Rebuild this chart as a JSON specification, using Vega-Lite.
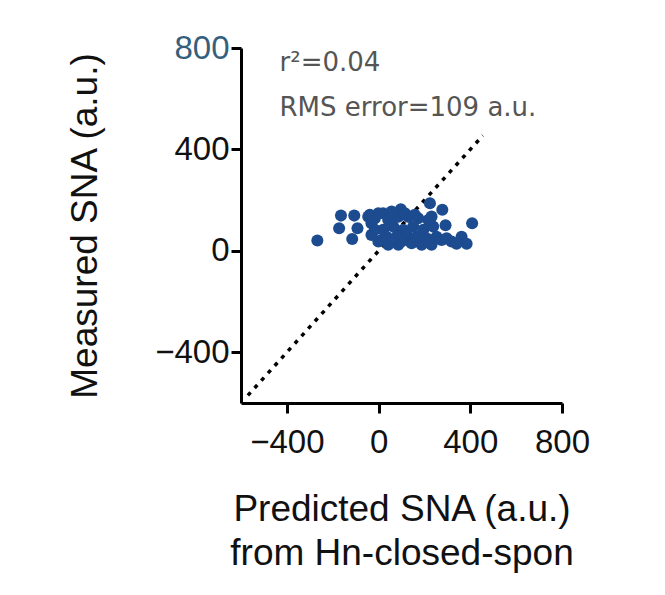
{
  "$schema": "https://vega.github.io/schema/vega-lite/v6.json",
  "width": 321,
  "height": 355,
  "autosize": {"type": "none"},
  "padding": {"left": 241, "top": 48, "right": 103, "bottom": 192},
  "background": "white",
  "config": {"view": {"stroke": null}, "font": "Liberation Sans"},
  "datasets": {
    "points": [
      {"x": -267, "y": 41}, {"x": -164, "y": 139}, {"x": -106, "y": 139}, {"x": -172, "y": 89},
      {"x": -92, "y": 89}, {"x": -115, "y": 47}, {"x": -38, "y": 142}, {"x": 20, "y": 148},
      {"x": -31, "y": 109}, {"x": 97, "y": 164}, {"x": 224, "y": 188}, {"x": 278, "y": 162},
      {"x": 292, "y": 101}, {"x": 408, "y": 109}, {"x": 362, "y": 56}, {"x": 384, "y": 28},
      {"x": 318, "y": 37}, {"x": 275, "y": 43}, {"x": 231, "y": 24}, {"x": 188, "y": 24},
      {"x": 144, "y": 30}, {"x": 86, "y": 24}, {"x": 42, "y": 24}, {"x": -1, "y": 37},
      {"x": -31, "y": 63}, {"x": -16, "y": 129}, {"x": 42, "y": 122}, {"x": 86, "y": 135},
      {"x": 129, "y": 135}, {"x": 173, "y": 129}, {"x": 217, "y": 122}, {"x": 238, "y": 96},
      {"x": 195, "y": 83}, {"x": 151, "y": 96}, {"x": 108, "y": 83}, {"x": 64, "y": 96},
      {"x": 20, "y": 83}, {"x": -16, "y": 83}, {"x": 35, "y": 56}, {"x": 78, "y": 56},
      {"x": 122, "y": 63}, {"x": 166, "y": 56}, {"x": 209, "y": 50}, {"x": 253, "y": 56},
      {"x": 115, "y": 148}, {"x": 158, "y": 142}, {"x": 57, "y": 155}, {"x": 13, "y": 43},
      {"x": 100, "y": 37}, {"x": 340, "y": 28}, {"x": 297, "y": 50}, {"x": 231, "y": 135},
      {"x": -1, "y": 148}, {"x": -45, "y": 135}
    ],
    "diag": [{"x": -570, "y": -570}, {"x": 455, "y": 455}],
    "notes": [
      {"x": -432, "y": 741, "label": "r²=0.04"},
      {"x": -432, "y": 563, "label": "RMS error=109 a.u."}
    ]
  },
  "encoding": {
    "x": {
      "field": "x", "type": "quantitative",
      "scale": {"domain": [-600, 800], "nice": false, "zero": false},
      "axis": {
        "title": ["Predicted SNA (a.u.)", "from Hn-closed-spon"],
        "values": [-400, 0, 400, 800],
        "grid": false,
        "domainColor": "black", "domainWidth": 3,
        "tickColor": "black", "tickWidth": 3, "tickSize": 10,
        "labelFontSize": 33, "labelColor": "#111", "labelPadding": 13,
        "labelFlush": false, "labelOverlap": false,
        "titleFontSize": 37, "titleFontWeight": "normal", "titleColor": "#111",
        "titlePadding": 32, "titleLineHeight": 44
      }
    },
    "y": {
      "field": "y", "type": "quantitative",
      "scale": {"domain": [-600, 800], "nice": false, "zero": false},
      "axis": {
        "title": "Measured SNA (a.u.)",
        "values": [-400, 0, 400, 800],
        "grid": false,
        "domainColor": "black", "domainWidth": 3,
        "tickColor": "black", "tickWidth": 3, "tickSize": 10,
        "labelFontSize": 33,
        "labelColor": {"condition": {"test": "datum.value === 800", "value": "#34607e"}, "value": "#111"},
        "labelPadding": 2,
        "labelFlush": false, "labelOverlap": false,
        "titleFontSize": 37, "titleFontWeight": "normal", "titleColor": "#111",
        "titlePadding": 50
      }
    }
  },
  "layer": [
    {
      "data": {"name": "diag"},
      "mark": {"type": "line", "color": "black", "strokeWidth": 3.5, "strokeDash": [4, 6], "strokeCap": "butt"}
    },
    {
      "data": {"name": "points"},
      "mark": {"type": "circle", "size": 145, "color": "#1c4b8f", "opacity": 1}
    },
    {
      "data": {"name": "notes"},
      "mark": {"type": "text", "align": "left", "baseline": "middle", "fontSize": 26, "color": "#555", "font": "DejaVu Sans"},
      "encoding": {"text": {"field": "label"}}
    }
  ]
}
